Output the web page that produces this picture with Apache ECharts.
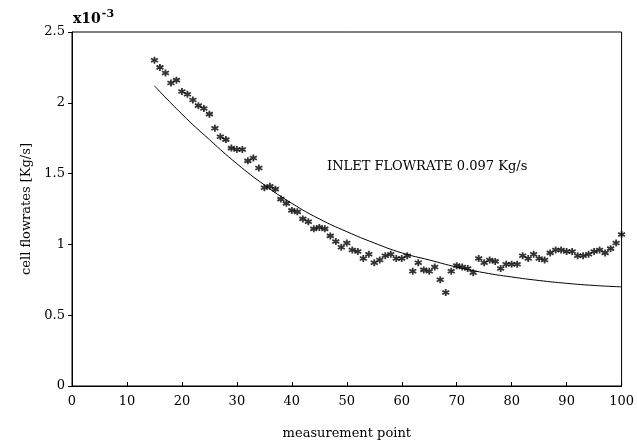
<!DOCTYPE html>
<html>
<head>
<meta charset="utf-8">
<script src="https://cdn.jsdelivr.net/npm/echarts@6/dist/echarts.min.js"></script>
<style>
  html, body { margin: 0; padding: 0; background: #fff; }
  #chart { width: 637px; height: 445px; }
</style>
</head>
<body>
<div id="chart"></div>
<script>
// measured cell flowrates (x10^-3 kg/s) at measurement points 15..100
const measPoints = [15, 16, 17, 18, 19, 20, 21, 22, 23, 24, 25, 26, 27, 28, 29, 30, 31, 32, 33, 34, 35, 36, 37,
  38, 39, 40, 41, 42, 43, 44, 45, 46, 47, 48, 49, 50, 51, 52, 53, 54, 55, 56, 57, 58, 59, 60, 61, 62, 63, 64, 65,
  66, 67, 68, 69, 70, 71, 72, 73, 74, 75, 76, 77, 78, 79, 80, 81, 82, 83, 84, 85, 86, 87, 88, 89, 90, 91, 92, 93,
  94, 95, 96, 97, 98, 99, 100];
const measValues = [2.30, 2.25, 2.21, 2.14, 2.16, 2.08, 2.06, 2.02, 1.98, 1.96, 1.92, 1.82, 1.76, 1.74, 1.68, 1.67,
  1.67, 1.59, 1.61, 1.54, 1.40, 1.41, 1.39,
  1.32, 1.29, 1.24, 1.23, 1.18, 1.16, 1.11, 1.12, 1.11, 1.06, 1.02, 0.98, 1.01, 0.96, 0.95, 0.90, 0.93, 0.87,
  0.89, 0.92, 0.93, 0.90, 0.90, 0.92, 0.81, 0.87, 0.82, 0.81, 0.84, 0.75, 0.66, 0.81, 0.85, 0.84, 0.83, 0.80,
  0.90, 0.87, 0.89, 0.88, 0.83, 0.86, 0.86, 0.86, 0.92, 0.90, 0.93, 0.90, 0.89, 0.94, 0.96, 0.96, 0.95, 0.95,
  0.92, 0.92, 0.93, 0.95, 0.96, 0.94, 0.97, 1.01, 1.07];

// model curve
const curvePoints = [15, 20, 25, 30, 35, 40, 45, 50, 55, 60, 65, 70, 75, 80, 85, 90, 95, 100];
const curveValues = [2.12, 1.92, 1.74, 1.57, 1.42, 1.29, 1.18, 1.09, 1.01, 0.94, 0.89, 0.84, 0.80, 0.77, 0.745, 0.725, 0.71, 0.70];

const xTicks = [0, 10, 20, 30, 40, 50, 60, 70, 80, 90, 100];
const yTicks = [0, 0.5, 1, 1.5, 2, 2.5];

const serif = '"DejaVu Serif", "Liberation Serif", serif';
const star = 'path://M0,-5L0,5M-4.33,-2.5L4.33,2.5M-4.33,2.5L4.33,-2.5';

const chart = echarts.init(document.getElementById('chart'));
chart.setOption({
  animation: false,
  backgroundColor: '#fff',
  grid: { left: 72, right: 15, top: 32, bottom: 57, show: true, borderColor: '#000', borderWidth: 1 },
  xAxis: {
    type: 'value', min: 0, max: 100, interval: 10,
    name: 'measurement point', nameLocation: 'middle', nameGap: 41,
    nameTextStyle: { fontFamily: serif, fontSize: 13, color: '#000', letterSpacing: 1 },
    axisLine: { lineStyle: { color: '#000' } },
    axisTick: { inside: true, length: 4, lineStyle: { color: '#000' } },
    axisLabel: { fontFamily: serif, fontSize: 13, color: '#000', margin: 9,
      formatter: v => xTicks.includes(v) ? String(v) : '' },
    splitLine: { show: false }
  },
  yAxis: {
    type: 'value', min: 0, max: 2.5, interval: 0.5,
    name: 'cell flowrates [Kg/s]', nameLocation: 'middle', nameGap: 38, nameRotate: 90,
    nameTextStyle: { fontFamily: serif, fontSize: 13, color: '#000', letterSpacing: 0.8 },
    axisLine: { lineStyle: { color: '#000' } },
    axisTick: { inside: false, length: 4, lineStyle: { color: '#000' } },
    axisLabel: { fontFamily: serif, fontSize: 13, color: '#000', margin: 7,
      formatter: v => yTicks.includes(v) ? String(v) : '' },
    splitLine: { show: false }
  },
  graphic: [
    {
      type: 'text', left: 73, top: 9,
      style: {
        text: '{b|x10}{s|-3}',
        rich: {
          b: { fontFamily: serif, fontSize: 14, fontWeight: 'bold', fill: '#000', verticalAlign: 'bottom' },
          s: { fontFamily: serif, fontSize: 11, fontWeight: 'bold', fill: '#000', verticalAlign: 'top', padding: [0, 0, 6, 1] }
        }
      }
    },
    {
      type: 'text', left: 327, top: 160,
      style: { text: 'INLET FLOWRATE 0.097 Kg/s', fontFamily: serif, fontSize: 13, fill: '#000' }
    }
  ],
  series: [
    {
      type: 'scatter',
      data: measPoints.map((x, i) => [x, measValues[i]]),
      symbol: star, symbolSize: 7,
      itemStyle: { color: '#000', borderColor: '#000', borderWidth: 1.8 }
    },
    {
      type: 'line',
      data: curvePoints.map((x, i) => [x, curveValues[i]]),
      smooth: true, showSymbol: false,
      lineStyle: { color: '#000', width: 1 }
    }
  ]
});
</script>
</body>
</html>
